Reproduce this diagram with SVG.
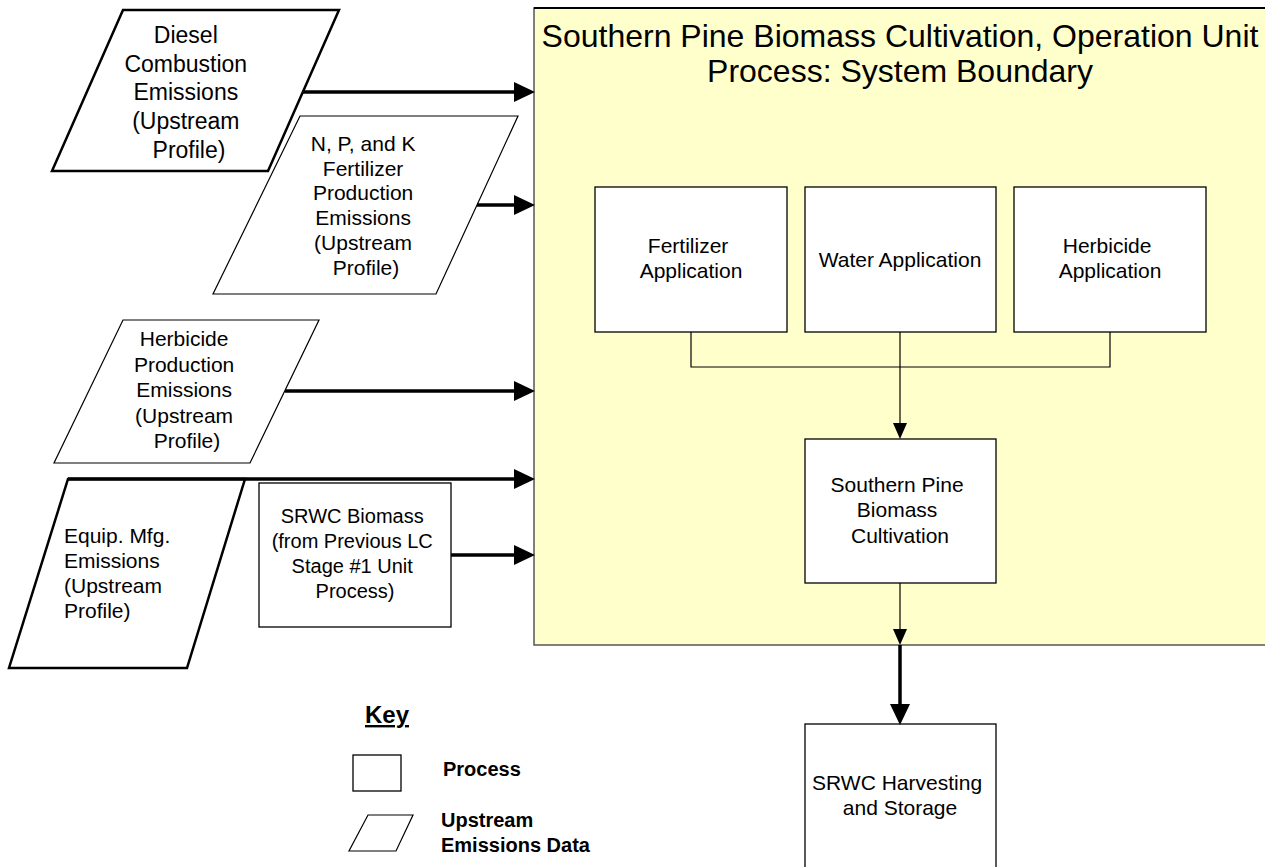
<svg xmlns="http://www.w3.org/2000/svg" width="1265" height="867" viewBox="0 0 1265 867">
<style>
  text { font-family: "Liberation Sans", Arial, sans-serif; fill: #000; }
  .box { fill: #fff; stroke: #000; stroke-width: 1.3; }
  .para { fill: #fff; stroke: #000; stroke-width: 1.2; }
  .para-bold { fill: #fff; stroke: #000; stroke-width: 2.5; }
  .thick { stroke: #000; stroke-width: 3.5; fill: none; }
  .thin { stroke: #000; stroke-width: 1.2; fill: none; }
  .t21 { font-size: 21px; }
  .t20 { font-size: 20px; }
  .t23 { font-size: 23px; }
  .key { font-size: 20px; font-weight: bold; }
</style>
<defs>
  <marker id="headThick" markerUnits="userSpaceOnUse" markerWidth="21" markerHeight="20" refX="0" refY="10" orient="auto">
    <path d="M0,0 L21,10 L0,20 Z" fill="#000"/>
  </marker>
  <marker id="headThin" markerUnits="userSpaceOnUse" markerWidth="16" markerHeight="14" refX="0" refY="7" orient="auto">
    <path d="M0,0 L16,7 L0,14 Z" fill="#000"/>
  </marker>
</defs>

<g id="boundary">
  <rect x="534" y="8" width="740" height="637" fill="#FFFFCC" stroke="#555" stroke-width="1.5"/>
  <line x1="534" y1="8" x2="1265" y2="8" stroke="#000" stroke-width="2"/>
  <text x="900" y="47" font-size="32" text-anchor="middle">Southern Pine Biomass Cultivation, Operation Unit</text>
  <text x="900" y="82" font-size="32" text-anchor="middle">Process: System Boundary</text>
</g>

<g id="diesel">
  <polygon class="para-bold" points="123,10 339,10 268,171 52,171"/>
  <text class="t23" text-anchor="middle">
    <tspan x="189" y="43">Diesel</tspan>
    <tspan x="189" y="72">Combustion</tspan>
    <tspan x="189" y="100">Emissions</tspan>
    <tspan x="189" y="129">(Upstream</tspan>
    <tspan x="189" y="158">Profile)</tspan>
  </text>
</g>

<g id="npk">
  <polygon class="para" points="300,116 518,116 436,294 213,294"/>
  <text class="t21" text-anchor="middle">
    <tspan x="366" y="151">N, P, and K</tspan>
    <tspan x="366" y="176">Fertilizer</tspan>
    <tspan x="366" y="200">Production</tspan>
    <tspan x="366" y="225">Emissions</tspan>
    <tspan x="366" y="250">(Upstream</tspan>
    <tspan x="366" y="275">Profile)</tspan>
  </text>
</g>

<g id="herbicide-prod">
  <polygon class="para" points="123,320 319,320 250,463 54,463"/>
  <text class="t21" text-anchor="middle">
    <tspan x="187" y="346">Herbicide</tspan>
    <tspan x="187" y="372">Production</tspan>
    <tspan x="187" y="397">Emissions</tspan>
    <tspan x="187" y="423">(Upstream</tspan>
    <tspan x="187" y="448">Profile)</tspan>
  </text>
</g>

<g id="equip">
  <polygon class="para-bold" points="68,479 245,479 187,668 9,668"/>
  <text class="t21">
    <tspan x="64" y="543">Equip. Mfg.</tspan>
    <tspan x="64" y="568">Emissions</tspan>
    <tspan x="64" y="593">(Upstream</tspan>
    <tspan x="64" y="618">Profile)</tspan>
  </text>
</g>

<g id="srwc-biomass">
  <rect class="box" x="259" y="483" width="192" height="144"/>
  <text class="t20" text-anchor="middle">
    <tspan x="355" y="523">SRWC Biomass</tspan>
    <tspan x="355" y="548">(from Previous LC</tspan>
    <tspan x="355" y="573">Stage #1 Unit</tspan>
    <tspan x="355" y="598">Process)</tspan>
  </text>
</g>

<g id="fertilizer-app">
  <rect class="box" x="595" y="187" width="192" height="145"/>
  <text class="t21" text-anchor="middle">
    <tspan x="691" y="253">Fertilizer</tspan>
    <tspan x="691" y="278">Application</tspan>
  </text>
</g>

<g id="water-app">
  <rect class="box" x="805" y="187" width="191" height="145"/>
  <text class="t21" text-anchor="middle" x="900" y="267">Water Application</text>
</g>

<g id="herbicide-app">
  <rect class="box" x="1014" y="187" width="192" height="145"/>
  <text class="t21" text-anchor="middle">
    <tspan x="1110" y="253">Herbicide</tspan>
    <tspan x="1110" y="278">Application</tspan>
  </text>
</g>

<g id="cultivation">
  <rect class="box" x="805" y="439" width="191" height="144"/>
  <text class="t21" text-anchor="middle">
    <tspan x="900" y="492">Southern Pine</tspan>
    <tspan x="900" y="517">Biomass</tspan>
    <tspan x="900" y="543">Cultivation</tspan>
  </text>
</g>

<g id="harvesting">
  <rect class="box" x="805" y="724" width="191" height="150"/>
  <text class="t21" text-anchor="middle">
    <tspan x="900" y="790">SRWC Harvesting</tspan>
    <tspan x="900" y="815">and Storage</tspan>
  </text>
</g>

<g id="connectors">
  <line class="thick" x1="303" y1="92" x2="514" y2="92" marker-end="url(#headThick)"/>
  <line class="thick" x1="477" y1="205" x2="514" y2="205" marker-end="url(#headThick)"/>
  <line class="thick" x1="285" y1="391" x2="514" y2="391" marker-end="url(#headThick)"/>
  <line class="thick" x1="68" y1="479" x2="514" y2="479" marker-end="url(#headThick)"/>
  <line class="thick" x1="451" y1="555" x2="514" y2="555" marker-end="url(#headThick)"/>
  <polyline class="thin" points="691,332 691,367 1110,367 1110,332"/>
  <line class="thin" x1="900" y1="332" x2="900" y2="423" marker-end="url(#headThin)"/>
  <line class="thin" x1="900" y1="583" x2="900" y2="629" marker-end="url(#headThin)"/>
  <line class="thick" x1="900" y1="645" x2="900" y2="704" marker-end="url(#headThick)"/>
</g>

<g id="legend">
  <text x="387" y="723" font-size="24" font-weight="bold" text-anchor="middle" text-decoration="underline">Key</text>
  <rect class="box" x="353" y="755" width="48" height="36" stroke-width="1"/>
  <text class="key" x="443" y="776">Process</text>
  <polygon class="para" points="368,815 413,815 396,851 349,851" stroke-width="1"/>
  <text class="key">
    <tspan x="441" y="827">Upstream</tspan>
    <tspan x="441" y="852">Emissions Data</tspan>
  </text>
</g>
</svg>
